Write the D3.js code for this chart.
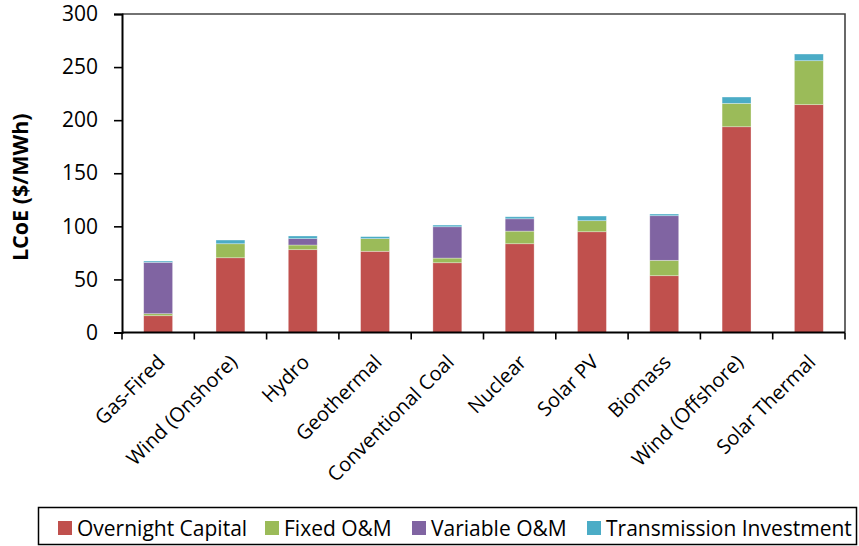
<!DOCTYPE html>
<html>
<head>
<meta charset="utf-8">
<script src="https://cdn.jsdelivr.net/npm/d3@7"></script>
<style>
  body { margin: 0; background: #fff; }
  svg { display: block; font-family: "Open Sans", "Noto Sans", sans-serif; }
</style>
</head>
<body>
<svg id="chart" width="859" height="546"></svg>
<script>
// values, $/MWh
var categories = ["Gas-Fired", "Wind (Onshore)", "Hydro", "Geothermal", "Conventional Coal",
                  "Nuclear", "Solar PV", "Biomass", "Wind (Offshore)", "Solar Thermal"];
var overnightCapital = [15.8, 70.4, 78.0, 76.5, 65.7, 83.6, 94.9, 53.5, 193.8, 214.6];
var fixedOM          = [1.9, 13.2, 4.4, 11.9, 4.4, 11.9, 10.4, 14.5, 22.0, 41.4];
var variableOM       = [48.4, 0, 6.0, 0, 29.5, 11.6, 0, 42.0, 0, 0];
var transmission     = [1.2, 3.5, 2.5, 1.9, 1.6, 1.9, 4.4, 1.6, 6.0, 6.3];
var seriesNames = ["Overnight Capital", "Fixed O&M", "Variable O&M", "Transmission Investment"];
var yTicks = [0, 50, 100, 150, 200, 250, 300];

var colors = ["#C0504D", "#9BBB59", "#8064A2", "#4BACC6"];

var svg = d3.select("#chart"),
    margin = {top: 14, right: 14, bottom: 213.5, left: 122},
    width = +svg.attr("width") - margin.left - margin.right,
    height = +svg.attr("height") - margin.top - margin.bottom,
    g = svg.append("g").attr("transform", "translate(" + margin.left + "," + margin.top + ")");

var rows = categories.map(function(c, i) {
  return {cat: c, "Overnight Capital": overnightCapital[i], "Fixed O&M": fixedOM[i],
          "Variable O&M": variableOM[i], "Transmission Investment": transmission[i]};
});
var stacked = d3.stack().keys(seriesNames)(rows);

var x = d3.scaleBand().domain(categories).range([0, width]).paddingInner(0.6).paddingOuter(0.3);
var y = d3.scaleLinear().domain([0, 300]).range([height, 0]);

// bars
g.selectAll(".series")
  .data(stacked)
  .enter().append("g")
    .attr("class", "series")
    .attr("fill", function(d, i) { return colors[i]; })
  .selectAll("rect")
  .data(function(d) { return d; })
  .enter().append("rect")
    .attr("x", function(d) { return x(d.data.cat); })
    .attr("y", function(d) { return y(d[1]); })
    .attr("width", x.bandwidth())
    .attr("height", function(d) { return y(d[0]) - y(d[1]); })
    .attr("stroke", "#fff")
    .attr("stroke-opacity", 0.45)
    .attr("stroke-width", 0.7);

// frame top and right
g.append("path")
  .attr("d", "M0,0H" + width + "V" + height)
  .attr("fill", "none")
  .attr("stroke", "#444")
  .attr("stroke-width", 1.6);

// y axis
var yAxis = g.append("g")
  .call(d3.axisLeft(y).tickValues(yTicks).tickSize(8).tickPadding(16));
yAxis.select(".domain").attr("stroke", "#000").attr("stroke-width", 2);
yAxis.selectAll(".tick line").attr("stroke", "#000").attr("stroke-width", 1.6);
yAxis.selectAll(".tick text").attr("font-size", 21).attr("fill", "#000")
  .attr("font-family", "'Open Sans', sans-serif");

// x axis: ticks on category boundaries
var step = x.step();
var xAxis = g.append("g").attr("transform", "translate(0," + height + ")");
xAxis.append("line")
  .attr("x1", 0).attr("x2", width)
  .attr("stroke", "#000").attr("stroke-width", 2);
xAxis.selectAll(".bound")
  .data(d3.range(categories.length + 1))
  .enter().append("line")
    .attr("x1", function(i) { return i * step; })
    .attr("x2", function(i) { return i * step; })
    .attr("y1", 0).attr("y2", 7)
    .attr("stroke", "#000").attr("stroke-width", 1.6);
xAxis.selectAll(".lbl")
  .data(categories)
  .enter().append("text")
    .attr("text-anchor", "end")
    .attr("font-size", 20)
    .attr("fill", "#000")
    .attr("transform", function(d) {
      return "translate(" + (x(d) + x.bandwidth() / 2 - 2) + ",21) rotate(-45)";
    })
    .attr("dy", "0.7em")
    .text(function(d) { return d; });

// y title
svg.append("text")
  .attr("transform", "translate(20," + (margin.top + height / 2 + 14) + ") rotate(-90)")
  .attr("text-anchor", "middle")
  .attr("dy", "0.35em")
  .attr("font-size", 21.5)
  .attr("font-weight", "bold")
  .text("LCoE ($/MWh)");

// legend
var legend = svg.append("g");
legend.append("rect")
  .attr("x", 38.5).attr("y", 507.5).attr("width", 818).attr("height", 37)
  .attr("fill", "#fff").attr("stroke", "#000").attr("stroke-width", 1.5);
var legendX = [58, 265, 412, 587];
var items = legend.selectAll(".item")
  .data(seriesNames)
  .enter().append("g")
    .attr("transform", function(d, i) { return "translate(" + legendX[i] + ",521)"; });
items.append("rect")
  .attr("width", 14).attr("height", 14)
  .attr("fill", function(d, i) { return colors[i]; });
items.append("text")
  .attr("x", 19).attr("y", 7)
  .attr("dy", "0.36em")
  .attr("font-size", 21)
  .attr("fill", "#000")
  .text(function(d) { return d; });
</script>
</body>
</html>
